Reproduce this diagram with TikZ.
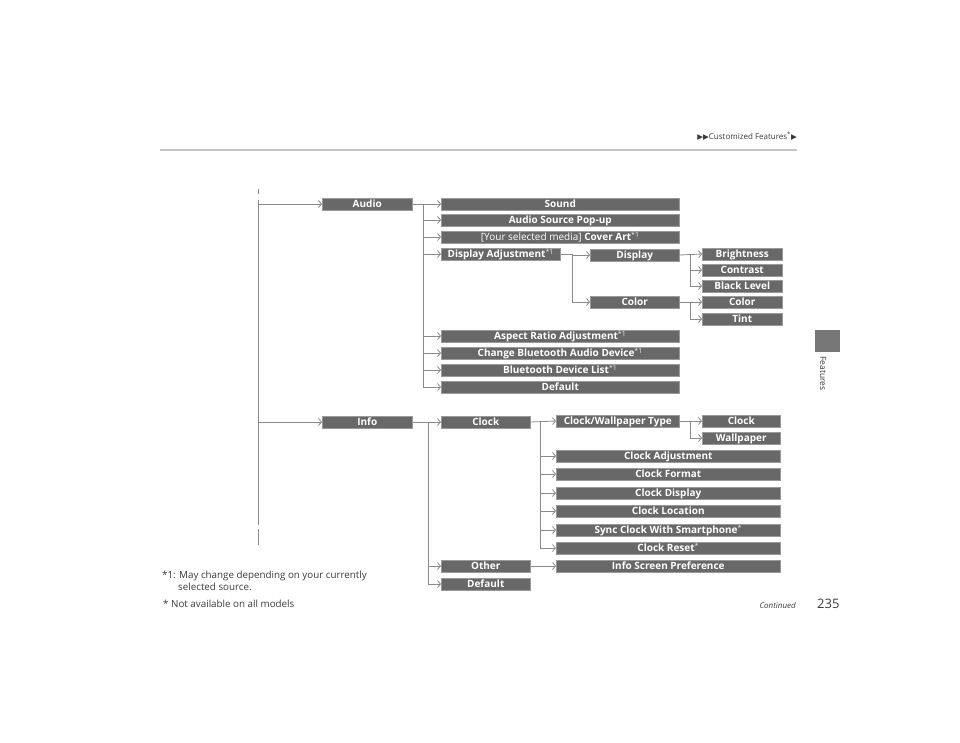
\documentclass[tikz,border=0pt]{standalone}
\usepackage{fontspec}
\setsansfont{Open Sans}
\newfontfamily\symfont{DejaVu Sans}
\usetikzlibrary{arrows.meta}

\definecolor{boxgray}{HTML}{686868}
\definecolor{edgegray}{HTML}{9A9A9A}
\definecolor{linegray}{HTML}{8A8A8A}
\definecolor{rulegray}{HTML}{C4C4C4}
\definecolor{txtgray}{HTML}{3A3A3A}

\newcommand{\fn}[1]{\textsuperscript{\mdseries\color{white!85!gray}#1}}

\tikzset{
  menu/.style={fill=boxgray, draw=edgegray, line width=0.5pt, text=white,
    font=\sffamily\bfseries\fontsize{10}{11}\selectfont,
    minimum height=12pt, text height=8.8pt, text depth=1.4pt,
    inner sep=0pt, anchor=west},
  link/.style={draw=linegray, line width=0.8pt},
  tip/.style={link, -{Straight Barb[length=3pt,width=7pt]}},
  note/.style={font=\sffamily\fontsize{9.8}{12}\selectfont, text=txtgray, anchor=west, inner sep=0pt}
}

\begin{document}
\begin{tikzpicture}[x=1pt,y=-1pt]
  \useasboundingbox (0,0) rectangle (960,742);

  % page header
  \draw[rulegray, line width=2pt] (160,150) -- (797,150);
  \node[anchor=east, inner sep=0pt, text=txtgray] (head) at (797,136)
    {{\symfont\fontsize{7.5}{8}\selectfont ▶▶}{\sffamily\fontsize{8}{9}\selectfont Customized Features\textsuperscript{*}}{\symfont\fontsize{7.5}{8}\selectfont ▶}};

  % side tab
  \fill[boxgray!90] (815,330) rectangle (840,352);
  \node[rotate=-90, anchor=west, inner sep=0pt, text=txtgray, font=\sffamily\fontsize{8.5}{9}\selectfont] (tab) at (823,356) {Features};

  % first level
  \node[menu, minimum width=90pt] (audio) at (322,204) {Audio};
  \node[menu, minimum width=90pt] (info) at (322,422) {Info};

  % audio items
  \node[menu, minimum width=238pt] (sound) at (441,204) {Sound};
  \node[menu, minimum width=238pt] (popup) at (441,220) {Audio Source Pop-up};
  \node[menu, minimum width=238pt] (cover) at (441,237) {\mdseries[Your selected media] \bfseries Cover Art\fn{*1}};
  \node[menu, minimum width=119pt] (dispadj) at (441,254) {Display Adjustment\fn{*1}};
  \node[menu, minimum width=238pt] (aspect) at (441,336) {Aspect Ratio Adjustment\fn{*1}};
  \node[menu, minimum width=238pt] (btchange) at (441,353) {Change Bluetooth Audio Device\fn{*1}};
  \node[menu, minimum width=238pt] (btlist) at (441,370) {Bluetooth Device List\fn{*1}};
  \node[menu, minimum width=238pt] (adefault) at (441,387) {Default};

  \node[menu, minimum width=89pt] (display) at (590,255) {Display};
  \node[menu, minimum width=89pt] (color) at (590,302) {Color};
  \node[menu, minimum width=80pt] (bright) at (702,254) {Brightness};
  \node[menu, minimum width=80pt] (contrast) at (702,270) {Contrast};
  \node[menu, minimum width=80pt] (black) at (702,286) {Black Level};
  \node[menu, minimum width=80pt] (color2) at (702,302) {Color};
  \node[menu, minimum width=80pt] (tint) at (702,319) {Tint};

  % info items
  \node[menu, minimum width=89pt] (clock) at (441,422) {Clock};
  \node[menu, minimum width=89pt] (other) at (441,566) {Other};
  \node[menu, minimum width=89pt] (idefault) at (441,584) {Default};

  \node[menu, minimum width=123pt] (cwtype) at (556,421) {Clock/Wallpaper Type};
  \node[menu, minimum width=224pt] (cadj) at (556,456) {Clock Adjustment};
  \node[menu, minimum width=224pt] (cformat) at (556,474) {Clock Format};
  \node[menu, minimum width=224pt] (cdisp) at (556,493) {Clock Display};
  \node[menu, minimum width=224pt] (cloc) at (556,511) {Clock Location};
  \node[menu, minimum width=224pt] (csync) at (556,530) {Sync Clock With Smartphone\fn{*}};
  \node[menu, minimum width=224pt] (creset) at (556,548) {Clock Reset\fn{*}};
  \node[menu, minimum width=224pt] (ipref) at (556,566) {Info Screen Preference};

  \node[menu, minimum width=78pt] (wclock) at (702,421) {Clock};
  \node[menu, minimum width=78pt] (wpaper) at (702,438) {Wallpaper};

  % root spine
  \coordinate (root) at (258,200);
  \draw[link] (258,189) -- (258,194);
  \draw[link] (root) -- (258,525);
  \draw[link] (258,529) -- (258,545);
  \draw[tip] (root |- audio.west) -- (audio.west);
  \draw[tip] (root |- info.west) -- (info.west);

  % audio branch
  \coordinate (sa) at (423,204);
  \draw[tip] (audio.east) -- (sound.west);
  \foreach \n in {popup,cover,dispadj,aspect,btchange,btlist}
    \draw[tip] (sa |- \n.west) -- (\n.west);
  \draw[tip] (sa) |- (adefault.west);

  \coordinate (sd) at (572,254);
  \draw[link] (dispadj.east) -- (sd);
  \draw[tip] (sd) |- (display.west);
  \draw[tip] (sd) |- (color.west);

  \coordinate (sb) at (690,255);
  \draw[tip] (display.east) -- (bright.west);
  \draw[tip] (sb |- contrast.west) -- (contrast.west);
  \draw[tip] (sb) |- (black.west);

  \coordinate (sc) at (690,302);
  \draw[tip] (color.east) -- (color2.west);
  \draw[tip] (sc) |- (tint.west);

  % info branch
  \coordinate (si) at (428,422);
  \draw[tip] (info.east) -- (clock.west);
  \draw[tip] (si |- other.west) -- (other.west);
  \draw[tip] (si) |- (idefault.west);

  \coordinate (sk) at (540,422);
  \draw[tip] (clock.east) -- (cwtype.west);
  \foreach \n in {cadj,cformat,cdisp,cloc,csync}
    \draw[tip] (sk |- \n.west) -- (\n.west);
  \draw[tip] (sk) |- (creset.west);

  \coordinate (sw) at (690,421);
  \draw[tip] (cwtype.east) -- (wclock.west);
  \draw[tip] (sw) |- (wpaper.west);

  \draw[tip] (other.east) -- (ipref.west);

  % notes
  \node[note, align=left] (note1) at (162,581) {*1: May change depending on your currently\\\hspace*{16pt}selected source.};
  \node[note] (note2) at (163,604) {* Not available on all models};
  \node[anchor=east, inner sep=0pt, text=txtgray, font=\sffamily\itshape\fontsize{8}{9}\selectfont] (cont) at (796,605) {Continued};
  \node[anchor=west, inner sep=0pt, text=txtgray, font=\sffamily\fontsize{13}{14}\selectfont] (page) at (817,604) {235};
\end{tikzpicture}
\end{document}
